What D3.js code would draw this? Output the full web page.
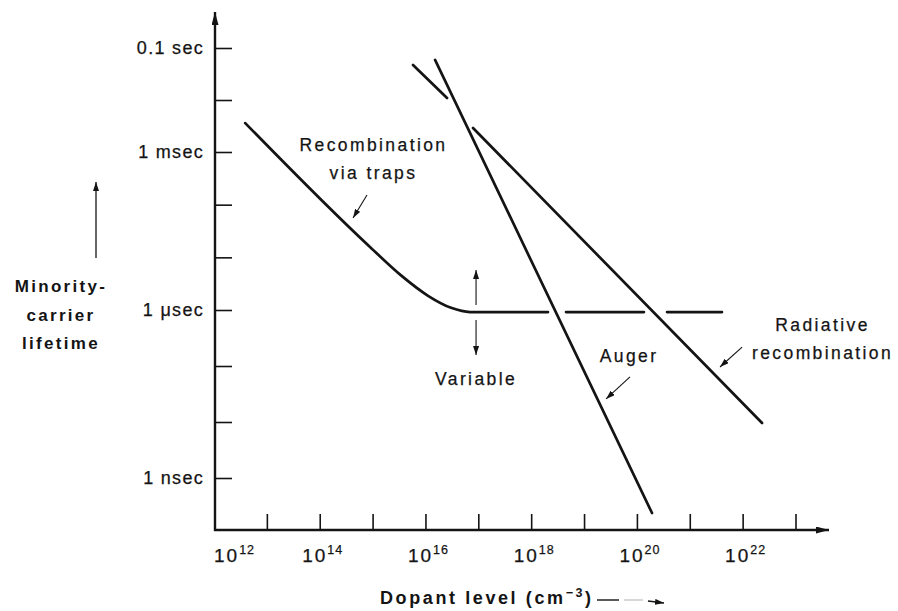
<!DOCTYPE html>
<html>
<head>
<meta charset="utf-8">
<script src="https://cdn.jsdelivr.net/npm/d3@7"></script>
<style>
  html, body { margin: 0; padding: 0; background: #fff; }
  svg { display: block; font-family: "Liberation Sans", Arial, Helvetica, sans-serif; }
</style>
</head>
<body>
<svg id="chart" width="898" height="611"></svg>
<script>
// ---- Axis ticks ----------------------------------------------------------
// Dopant level decades that carry a tick mark (cm^-3)
const xTickValues = [1e13, 1e14, 1e15, 1e16, 1e17, 1e18, 1e19, 1e20, 1e21, 1e22, 1e23];
// Exponents printed under the dopant axis
const xLabelExponents = [12, 14, 16, 18, 20, 22];
// Lifetime decades that carry a tick mark (seconds)
const yTickValues = [1e-9, 1e-8, 1e-7, 1e-6, 1e-5, 1e-4, 1e-3, 1e-2, 1e-1];
const yLabelValues = [1e-1, 1e-3, 1e-6, 1e-9];
const yLabelTexts = ["0.1 sec", "1 msec", "1 \u03bcsec", "1 nsec"];

// ---- Lifetime curves: [dopant level (cm^-3), lifetime (s)] ---------------
// null breaks a line where another mechanism crosses in front of it
const trapCurve = [
  [3.9e12, 3.6e-3], [8.93e14, 1.57e-5], [3.45e15, 4.54e-6], [1.12e16, 1.86e-6],
  [3.05e16, 1.10e-6], [6.97e16, 0.92e-6], [2.08e18, 0.92e-6],
  null,
  [4.56e18, 0.92e-6], [1.36e20, 0.92e-6],
  null,
  [3.72e20, 0.92e-6], [4.07e21, 0.92e-6]
];
const augerLine = [[1.52e16, 5.9e-2], [1.93e20, 2.37e-10]];
const radiativeLine = [
  [5.82e15, 4.71e-2], [2.56e16, 1.09e-2],
  null,
  [7.94e16, 2.9e-3], [2.33e22, 9.6e-9]
];

// ---- Annotations (anchored in data space) --------------------------------
const trapLabel = { lines: ["Recombination", "via traps"], at: [1.04e15, 1.05e-3] };
const trapArrow = [[7.83e14, 1.53e-4], [4.27e14, 5.58e-5]];
const variableArrows = [
  [[9.06e16, 1.25e-6], [9.06e16, 5.75e-6]],
  [[9.06e16, 6.63e-7], [9.06e16, 1.57e-7]]
];
const variableLabel = { lines: ["Variable"], at: [9.06e16, 4.58e-8] };
const augerLabel = { lines: ["Auger"], at: [7.1e19, 1.18e-7] };
const augerArrow = [[7.41e19, 6.37e-8], [2.61e19, 2.58e-8]];
const radiativeLabel = { lines: ["Radiative", "recombination"], at: [3.25e23, 4.22e-7] };
const radiativeArrow = [[9.75e21, 2.18e-7], [3.73e21, 9.6e-8]];

// ---- Layout --------------------------------------------------------------
const ink = "#141414";
const axisX0 = 215;     // vertical axis position
const axisY0 = 530;     // horizontal axis position

const x = d3.scaleLog().domain([1e12, 1e23]).range([214, 795.5]);
// piecewise log scale following the drawn decade spacing
const y = d3.scaleLog().domain([1e-9, 1e-6, 1e-3, 1e-1]).range([478, 310, 152, 48]);

const svg = d3.select("#chart");

// arrowheads
const defs = svg.append("defs");
function head(id, len, wid) {
  defs.append("marker")
    .attr("id", id)
    .attr("viewBox", `0 0 ${len} ${wid}`)
    .attr("refX", len).attr("refY", wid / 2)
    .attr("markerWidth", len).attr("markerHeight", wid)
    .attr("markerUnits", "userSpaceOnUse")
    .attr("orient", "auto")
    .append("path")
    .attr("d", `M0,0L${len},${wid / 2}L0,${wid}Z`)
    .attr("fill", ink);
}
head("axisHead", 13, 7);
head("smallHead", 9, 6);

// regular text gets a hairline outline so it prints as dark as the rules
function inked(sel) {
  return sel.attr("fill", ink).attr("stroke", ink).attr("stroke-width", 0.25);
}

// ---- Axes ----------------------------------------------------------------
const gx = svg.append("g")
  .attr("transform", `translate(0,${axisY0})`)
  .call(d3.axisBottom(x).tickValues(xTickValues).tickSizeInner(-16).tickSizeOuter(0).tickFormat(""));
gx.select(".domain").remove();
gx.selectAll(".tick line").attr("stroke", ink).attr("stroke-width", 1.6);

const labelMap = new Map(yLabelValues.map((v, i) => [v, yLabelTexts[i]]));
const gy = svg.append("g")
  .attr("transform", `translate(${axisX0},0)`)
  .call(d3.axisLeft(y).tickValues(yTickValues).tickSizeInner(-17).tickSizeOuter(0)
    .tickPadding(11).tickFormat(d => labelMap.get(d) || ""));
gy.select(".domain").remove();
gy.selectAll(".tick line").attr("stroke", ink).attr("stroke-width", 1.6);
inked(gy.selectAll(".tick text"))
  .style("font-family", "'Liberation Sans', Arial, sans-serif")
  .style("font-size", "18px")
  .style("letter-spacing", "1.3px");

// axis lines with arrowheads
svg.append("line")
  .attr("x1", axisX0).attr("y1", axisY0 + 1)
  .attr("x2", axisX0).attr("y2", 12)
  .attr("stroke", ink).attr("stroke-width", 2.4)
  .attr("marker-end", "url(#axisHead)");
svg.append("line")
  .attr("x1", axisX0 - 1).attr("y1", axisY0)
  .attr("x2", 829).attr("y2", axisY0)
  .attr("stroke", ink).attr("stroke-width", 2.4)
  .attr("marker-end", "url(#axisHead)");

// dopant exponent labels: 10 with superscript
const xl = inked(svg.append("g"));
xLabelExponents.forEach((e, i) => {
  const first = i === 0;
  const t = xl.append("text")
    .attr("x", first ? axisX0 - 1 : x(Math.pow(10, e)) + 3)
    .attr("y", 562)
    .attr("text-anchor", first ? "start" : "middle")
    .style("font-size", "19px")
    .style("letter-spacing", "2px");
  t.append("tspan").text("10");
  t.append("tspan").attr("dy", -8).style("font-size", "12.5px").style("letter-spacing", "1px").text(e);
});

// ---- Axis titles ---------------------------------------------------------
const yTitle = svg.append("text")
  .attr("text-anchor", "middle")
  .attr("fill", ink)
  .style("font-size", "17px").style("font-weight", "bold").style("letter-spacing", "2.3px");
["Minority-", "carrier", "lifetime"].forEach((s, i) => {
  yTitle.append("tspan").attr("x", 61).attr("y", 292 + i * 28.5).text(s);
});
svg.append("line")
  .attr("x1", 96).attr("y1", 258).attr("x2", 96).attr("y2", 182)
  .attr("stroke", ink).attr("stroke-width", 1.3)
  .attr("marker-end", "url(#smallHead)");

const xTitle = svg.append("text")
  .attr("x", 380).attr("y", 604)
  .attr("fill", ink)
  .style("font-size", "18px").style("font-weight", "bold").style("letter-spacing", "2.6px");
xTitle.append("tspan").text("Dopant level (cm");
xTitle.append("tspan").attr("dy", -7).style("font-size", "12.5px").text("\u22123");
xTitle.append("tspan").attr("dy", 7).text(")");
svg.append("line")
  .attr("x1", 597).attr("y1", 600).attr("x2", 619).attr("y2", 600)
  .attr("stroke", ink).attr("stroke-width", 1.4);
svg.append("line")
  .attr("x1", 624).attr("y1", 600).attr("x2", 643).attr("y2", 600)
  .attr("stroke", "#c8c8c8").attr("stroke-width", 1.4);
svg.append("line")
  .attr("x1", 648).attr("y1", 601).attr("x2", 664).attr("y2", 603)
  .attr("stroke", ink).attr("stroke-width", 1.4)
  .attr("marker-end", "url(#smallHead)");

// ---- Curves --------------------------------------------------------------
const line = d3.line()
  .defined(d => d !== null)
  .x(d => x(d[0]))
  .y(d => y(d[1]))
  .curve(d3.curveMonotoneX);

const curves = svg.append("g")
  .attr("fill", "none")
  .attr("stroke", ink)
  .attr("stroke-width", 2.7)
  .attr("stroke-linecap", "round")
  .attr("stroke-linejoin", "round");
[trapCurve, augerLine, radiativeLine].forEach(c => {
  curves.append("path").attr("d", line(c));
});

// ---- Annotations ---------------------------------------------------------
function label(spec) {
  const t = inked(svg.append("text"))
    .attr("text-anchor", "middle")
    .style("font-size", "17.5px")
    .style("letter-spacing", "2.4px");
  spec.lines.forEach((s, i) => {
    t.append("tspan")
      .attr("x", x(spec.at[0]))
      .attr("y", y(spec.at[1]) + i * 28.5)
      .text(s);
  });
}
function arrow(pts) {
  svg.append("line")
    .attr("x1", x(pts[0][0])).attr("y1", y(pts[0][1]))
    .attr("x2", x(pts[1][0])).attr("y2", y(pts[1][1]))
    .attr("stroke", ink).attr("stroke-width", 1.1)
    .attr("marker-end", "url(#smallHead)");
}

label(trapLabel);
arrow(trapArrow);
variableArrows.forEach(arrow);
label(variableLabel);
label(augerLabel);
arrow(augerArrow);
label(radiativeLabel);
arrow(radiativeArrow);
</script>
</body>
</html>
